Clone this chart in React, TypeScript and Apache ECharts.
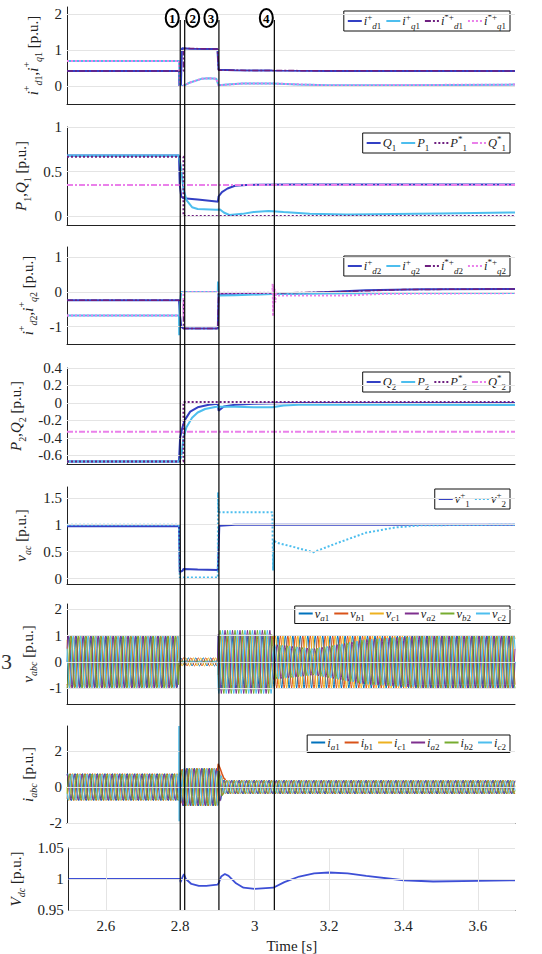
import React, { useEffect, useRef } from 'react';
import * as echarts from 'echarts';

// ---------------- data ----------------
const T_MIN = 2.5;
const T_MAX = 3.7;
const TIME_TICKS = [2.6, 2.8, 3, 3.2, 3.4, 3.6];
const EVENT_TIMES = [2.8, 2.812, 2.904, 3.053];
const EVENT_LABELS = ['1', '2', '3', '4'];

const Y_MIN = [-0.5, -0.1, -1.5, -0.7, -0.1, -1.6, -2, 0.95];
const Y_MAX = [2.2, 1, 1.3, 0.4, 1.7, 2.2, 3.4, 1.05];
const Y_TICKS = [
  [0, 1, 2],
  [0, 0.5, 1],
  [-1, 0, 1],
  [-0.6, -0.4, -0.2, 0, 0.2, 0.4],
  [0, 0.5, 1, 1.5],
  [-1, 0, 1, 2],
  [-2, 0, 2],
  [0.95, 1, 1.05],
];

// panel 1
const ID1 = [[2.5, 0.42], [2.8, 0.42], [2.801, 0.0], [2.805, 0.0], [2.808, 1.05], [2.83, 1.04], [2.87, 1.03], [2.903, 1.03], [2.906, 0.45], [2.95, 0.44], [3.05, 0.43], [3.2, 0.42], [3.7, 0.42]];
const IQ1 = [[2.5, 0.7], [2.8, 0.7], [2.803, 0.0], [2.81, 0.0], [2.83, 0.1], [2.86, 0.2], [2.88, 0.22], [2.9, 0.2], [2.906, 0.02], [2.93, 0.04], [2.97, 0.07], [3.05, 0.07], [3.12, 0.04], [3.2, 0.02], [3.4, 0.02], [3.7, 0.04]];
const ID1_REF = [[2.5, 0.42], [2.812, 0.42], [2.812, 1.05], [2.903, 1.03], [2.906, 0.44], [3.05, 0.43], [3.7, 0.42]];
const IQ1_REF = [[2.5, 0.7], [2.8, 0.7], [2.803, 0.0], [2.81, 0.0], [2.83, 0.1], [2.86, 0.2], [2.88, 0.22], [2.9, 0.2], [2.906, 0.02], [2.97, 0.07], [3.05, 0.07], [3.2, 0.02], [3.7, 0.04]];
// panel 2
const Q1 = [[2.5, 0.68], [2.8, 0.68], [2.802, 0.35], [2.806, 0.22], [2.812, 0.2], [2.85, 0.185], [2.9, 0.165], [2.904, 0.16], [2.906, 0.22], [2.915, 0.27], [2.93, 0.31], [2.95, 0.34], [2.98, 0.35], [3.1, 0.355], [3.7, 0.355]];
const P1 = [[2.5, 0.68], [2.8, 0.68], [2.805, 0.55], [2.812, 0.3], [2.82, 0.18], [2.835, 0.1], [2.85, 0.08], [2.9, 0.07], [2.91, 0.075], [2.92, 0.04], [2.935, 0.012], [2.97, 0.025], [3.0, 0.045], [3.04, 0.057], [3.08, 0.045], [3.15, 0.025], [3.25, 0.018], [3.5, 0.03], [3.7, 0.04]];
const P1_REF = [[2.5, 0.665], [2.812, 0.665], [2.812, 0.0], [3.7, 0.0]];
const Q1_REF = [[2.5, 0.35], [3.7, 0.35]];
// panel 3
const ID2 = [[2.5, -0.24], [2.8, -0.24], [2.802, -0.6], [2.806, -1.0], [2.812, -1.05], [2.904, -1.05], [2.906, -0.05], [2.95, -0.05], [3.05, -0.04], [3.1, -0.05], [3.2, 0.0], [3.3, 0.05], [3.45, 0.08], [3.7, 0.09]];
const IQ2 = [[2.5, -0.68], [2.8, -0.68], [2.8005, -1.25], [2.802, -0.4], [2.806, 0.0], [2.904, 0.0], [2.9045, 0.3], [2.906, -0.1], [2.95, -0.09], [3.05, -0.06], [3.1, -0.06], [3.2, -0.04], [3.4, -0.03], [3.7, -0.03]];
const ID2_REF = [[2.5, -0.24], [2.812, -0.24], [2.812, -1.05], [2.904, -1.05], [2.906, -0.04], [3.05, -0.03], [3.2, 0.0], [3.4, 0.07], [3.7, 0.09]];
const IQ2_REF = [[2.5, -0.68], [2.812, -0.68], [2.812, 0.0], [2.904, 0.0], [2.906, -0.02], [3.05, -0.02], [3.051, 0.25], [3.052, -0.7], [3.053, 0.2], [3.054, -0.5], [3.056, 0.1], [3.058, -0.3], [3.06, 0.0], [3.065, -0.1], [3.1, -0.1], [3.25, -0.1], [3.35, -0.05], [3.7, -0.03]];
// panel 4
const Q2 = [[2.5, -0.67], [2.8, -0.67], [2.803, -0.4], [2.808, -0.3], [2.815, -0.2], [2.83, -0.1], [2.85, -0.05], [2.88, -0.02], [2.904, -0.01], [2.906, -0.09], [2.92, -0.04], [2.95, -0.02], [3.0, -0.01], [3.1, 0.0], [3.7, 0.0]];
const P2 = [[2.5, -0.67], [2.8, -0.67], [2.806, -0.62], [2.812, -0.4], [2.82, -0.28], [2.835, -0.17], [2.85, -0.11], [2.87, -0.07], [2.9, -0.045], [2.95, -0.045], [3.0, -0.05], [3.05, -0.05], [3.08, -0.03], [3.12, -0.02], [3.4, -0.02], [3.7, -0.025]];
const P2_REF = [[2.5, -0.67], [2.812, -0.67], [2.812, 0.01], [3.7, 0.01]];
const Q2_REF = [[2.5, -0.33], [3.7, -0.33]];
// panel 5
const V1 = [[2.5, 0.97], [2.8, 0.97], [2.802, 0.12], [2.81, 0.15], [2.812, 0.18], [2.85, 0.17], [2.904, 0.16], [2.908, 0.98], [2.95, 1.0], [3.7, 1.0]];
const V2 = [[2.5, 1.0], [2.8, 1.0], [2.802, 0.02], [2.904, 0.02], [2.9045, 1.6], [2.906, 1.23], [3.05, 1.23], [3.052, 0.15], [3.054, 0.72], [3.06, 0.67], [3.1, 0.6], [3.16, 0.49], [3.22, 0.65], [3.3, 0.85], [3.38, 0.95], [3.45, 0.99], [3.7, 1.0]];
// panel 6/7 : envelopes (amplitudes) and one 50 Hz cycle
const UNIT_WAVE = [0, 0.5, 0.866, 1, 0.866, 0.5, 0, -0.5, -0.866, -1, -0.866, -0.5];
const PERIOD = 0.02;
const ENV_V1 = [[2.5, 0.97], [2.8, 0.97], [2.8, 0.15], [2.904, 0.15], [2.904, 1.0], [3.7, 1.0]];
const ENV_V2 = [[2.5, 1.0], [2.8, 1.0], [2.8, 0.03], [2.904, 0.03], [2.904, 1.2], [3.05, 1.2], [3.05, 0.67], [3.1, 0.6], [3.16, 0.5], [3.3, 0.85], [3.45, 0.99], [3.7, 1.0]];
const ENV_I1 = [[2.5, 0.75], [2.8, 0.75], [2.81, 1.05], [2.904, 1.05], [2.92, 0.38], [3.7, 0.38]];
const ENV_I2 = [[2.5, 0.73], [2.8, 0.73], [2.81, 1.03], [2.904, 1.03], [2.92, 0.36], [3.7, 0.36]];
const PHASE_SHIFT_1 = [0, 8, 4];
const PHASE_SHIFT_2 = [1, 9, 5];
const IC2_SPIKE = [[2.7995, 0.0], [2.8, 3.4], [2.8005, -1.9], [2.801, 0.5], [2.802, 0.0]];
const IB1_SPIKE = [[2.903, 0.9], [2.905, 1.3], [2.91, 1.05], [2.915, 0.75], [2.92, 0.5], [2.925, 0.4]];
// panel 8
const VDC = [[2.5, 1.0], [2.8, 1.0], [2.801, 0.995], [2.806, 1.003], [2.81, 1.008], [2.815, 1.0], [2.83, 0.992], [2.85, 0.989], [2.87, 0.989], [2.9, 0.991], [2.903, 0.993], [2.91, 1.004], [2.92, 1.008], [2.93, 1.005], [2.95, 0.993], [2.97, 0.986], [3.0, 0.984], [3.05, 0.986], [3.08, 0.995], [3.12, 1.004], [3.16, 1.009], [3.2, 1.0105], [3.25, 1.009], [3.3, 1.005], [3.4, 0.998], [3.48, 0.996], [3.6, 0.997], [3.7, 0.998]];

// ---------------- layout & style ----------------
const SERIF = 'Liberation Serif';
const GRID_TOP = [7, 127, 247, 368, 487, 604, 726, 848];
const GRID_H = [97, 98, 97, 96, 97, 100, 97, 63];
const NAME_GAP = [6, 25, 9, 25, 21, 11, 11, 23];
const LEGEND_TOP = [11, 133, 256, 372, 489, 606, 735];
const C_BLUE = '#3340c4';
const C_CYAN = '#4dbeee';
const C_PURP = '#6e1f80';
const C_PINK = '#ea80ea';
const PHASE_COLORS = ['#0072BD', '#D95319', '#EDB120', '#7E2F8E', '#77AC30', '#4DBEEE'];
const DASHDOT = [6, 2, 2, 2];
const DOT = [2, 2];

const AXIS_NAMES = [
  '{m|i}{p|+}{s|d}{sn|1}{r|,}{m|i}{p|+}{s|q}{sn|1}{r| [p.u.]}',
  '{m|P}{sn|1}{r|,}{m|Q}{sn|1}{r| [p.u.]}',
  '{m|i}{p|+}{s|d}{sn|2}{r|,}{m|i}{p|+}{s|q}{sn|2}{r| [p.u.]}',
  '{m|P}{sn|2}{r|,}{m|Q}{sn|2}{r| [p.u.]}',
  '{m|v}{s|ac}{r| [p.u.]}',
  '{m|v}{s|abc}{r| [p.u.]}',
  '{m|i}{s|abc}{r| [p.u.]}',
  '{m|V}{s|dc}{r| [p.u.]}',
];

const LABELS: Record<string, string> = {
  id1: '{m|i}{p|+}{s|d}{sn|1}', iq1: '{m|i}{p|+}{s|q}{sn|1}', id1r: '{m|i}{p|*+}{s|d}{sn|1}', iq1r: '{m|i}{p|*+}{s|q}{sn|1}',
  Q1: '{m|Q}{sn|1}', P1: '{m|P}{sn|1}', P1r: '{m|P}{p|*}{sn|1}', Q1r: '{m|Q}{p|*}{sn|1}',
  id2: '{m|i}{p|+}{s|d}{sn|2}', iq2: '{m|i}{p|+}{s|q}{sn|2}', id2r: '{m|i}{p|*+}{s|d}{sn|2}', iq2r: '{m|i}{p|*+}{s|q}{sn|2}',
  Q2: '{m|Q}{sn|2}', P2: '{m|P}{sn|2}', P2r: '{m|P}{p|*}{sn|2}', Q2r: '{m|Q}{p|*}{sn|2}',
  v1: '{m|v}{p|+}{sn|1}', v2: '{m|v}{p|+}{sn|2}',
  va1: '{m|v}{s|a}{sn|1}', vb1: '{m|v}{s|b}{sn|1}', vc1: '{m|v}{s|c}{sn|1}', va2: '{m|v}{s|a}{sn|2}', vb2: '{m|v}{s|b}{sn|2}', vc2: '{m|v}{s|c}{sn|2}',
  ia1: '{m|i}{s|a}{sn|1}', ib1: '{m|i}{s|b}{sn|1}', ic1: '{m|i}{s|c}{sn|1}', ia2: '{m|i}{s|a}{sn|2}', ib2: '{m|i}{s|b}{sn|2}', ic2: '{m|i}{s|c}{sn|2}',
};
const LEGEND_NAMES = [
  ['id1', 'iq1', 'id1r', 'iq1r'],
  ['Q1', 'P1', 'P1r', 'Q1r'],
  ['id2', 'iq2', 'id2r', 'iq2r'],
  ['Q2', 'P2', 'P2r', 'Q2r'],
  ['v1', 'v2'],
  ['va1', 'vb1', 'vc1', 'va2', 'vb2', 'vc2'],
  ['ia1', 'ib1', 'ic1', 'ia2', 'ib2', 'ic2'],
];

function envAt(env: number[][], t: number) {
  for (let i = 0; i < env.length - 1; i++) {
    const [t0, v0] = env[i];
    const [t1, v1] = env[i + 1];
    if (t >= t0 && t < t1) return v0 + ((v1 - v0) * (t - t0)) / (t1 - t0);
  }
  return env[env.length - 1][1];
}
function wave(env: number[][], shift: number) {
  const step = PERIOD / UNIT_WAVE.length;
  const n = Math.round((T_MAX - T_MIN) / step);
  const out: number[][] = [];
  for (let k = 0; k <= n; k++) {
    const t = T_MIN + k * step;
    out.push([t, envAt(env, t) * UNIT_WAVE[(k + shift) % UNIT_WAVE.length]]);
  }
  return out;
}

function richFor(size: number, sub: number) {
  const lh = Math.round(size * 1.45);
  return {
    m: { fontFamily: SERIF, fontStyle: 'italic', fontSize: size, lineHeight: lh, color: '#222' },
    r: { fontFamily: SERIF, fontSize: size, lineHeight: lh, color: '#222' },
    s: { fontFamily: SERIF, fontStyle: 'italic', fontSize: sub, lineHeight: sub, verticalAlign: 'bottom', color: '#222' },
    sn: { fontFamily: SERIF, fontSize: sub, lineHeight: sub, verticalAlign: 'bottom', color: '#222' },
    p: { fontFamily: SERIF, fontSize: sub, lineHeight: sub, verticalAlign: 'top', color: '#222' },
  };
}

function ln(name: string, data: number[][], g: number, color: string, width: number, type: any = 'solid', z = 2) {
  return {
    type: 'line', name, data, xAxisIndex: g, yAxisIndex: g, showSymbol: false, symbol: 'none',
    lineStyle: { color, width, type }, itemStyle: { color }, z, silent: true,
  };
}

function buildOption() {
  const grid = GRID_TOP.map((top, i) => ({ left: 67, right: 27, top, height: GRID_H[i] }));
  const xAxis = GRID_TOP.map((_, i) => {
    const last = i === 7;
    return {
      type: 'value', gridIndex: i, min: T_MIN, max: T_MAX,
      axisLine: { show: true, onZero: false, lineStyle: { color: '#222', width: 1 } },
      axisTick: last ? { show: true, inside: true, length: 5, customValues: TIME_TICKS, lineStyle: { color: '#222' } } : { show: false },
      axisLabel: last ? { show: true, customValues: TIME_TICKS, fontFamily: SERIF, fontSize: 15, color: '#222', margin: 8 } : { show: false },
      splitLine: { show: false },
      name: last ? 'Time [s]' : '', nameLocation: 'middle', nameGap: 28,
      nameTextStyle: { fontFamily: SERIF, fontSize: 15, color: '#222' },
    };
  });
  const yAxis = GRID_TOP.map((_, i) => ({
    type: 'value', gridIndex: i, min: Y_MIN[i], max: Y_MAX[i],
    axisLine: { show: true, onZero: false, lineStyle: { color: '#222', width: 1 } },
    axisTick: { show: true, inside: true, length: 4, customValues: Y_TICKS[i], lineStyle: { color: '#222' } },
    axisLabel: { show: true, customValues: Y_TICKS[i], fontFamily: SERIF, fontSize: 15, color: '#222', margin: 5 },
    splitLine: { show: false },
    name: AXIS_NAMES[i], nameLocation: 'middle', nameRotate: 90, nameGap: NAME_GAP[i],
    nameTextStyle: { rich: richFor(15, 10) },
  }));

  const series: any[] = [];
  // grid lines
  GRID_TOP.forEach((_, i) => {
    const data: any[] = Y_TICKS[i].map((v) => ({ yAxis: v }));
    if (i === 7) TIME_TICKS.forEach((v) => data.push({ xAxis: v }));
    series.push({
      type: 'line', data: [], xAxisIndex: i, yAxisIndex: i, z: 1, silent: true,
      markLine: { silent: true, symbol: ['none', 'none'], label: { show: false }, animation: false,
        lineStyle: { color: '#e4e4e4', width: 1, type: 'solid' }, emphasis: { disabled: true }, data },
    });
  });

  series.push(ln('id1', ID1, 0, C_BLUE, 2));
  series.push(ln('iq1', IQ1, 0, C_CYAN, 2));
  series.push(ln('id1r', ID1_REF, 0, C_PURP, 1.5, DASHDOT));
  series.push(ln('iq1r', IQ1_REF, 0, C_PINK, 2, DOT));

  series.push(ln('Q1', Q1, 1, C_BLUE, 2));
  series.push(ln('P1', P1, 1, C_CYAN, 2));
  series.push(ln('P1r', P1_REF, 1, C_PURP, 2, DOT));
  series.push(ln('Q1r', Q1_REF, 1, C_PINK, 2, DASHDOT));

  series.push(ln('id2', ID2, 2, C_BLUE, 2));
  series.push(ln('iq2', IQ2, 2, C_CYAN, 2));
  series.push(ln('id2r', ID2_REF, 2, C_PURP, 1.5, DASHDOT));
  series.push(ln('iq2r', IQ2_REF, 2, C_PINK, 2, DOT));

  series.push(ln('Q2', Q2, 3, C_BLUE, 2));
  series.push(ln('P2', P2, 3, C_CYAN, 2));
  series.push(ln('P2r', P2_REF, 3, C_PURP, 2, DOT));
  series.push(ln('Q2r', Q2_REF, 3, C_PINK, 2, DASHDOT));

  series.push(ln('v1', V1, 4, C_BLUE, 2));
  series.push(ln('v2', V2, 4, C_CYAN, 2, DOT));

  const vNames = ['va1', 'vb1', 'vc1', 'va2', 'vb2', 'vc2'];
  vNames.forEach((nm, k) => {
    const env = k < 3 ? ENV_V1 : ENV_V2;
    const sh = k < 3 ? PHASE_SHIFT_1[k] : PHASE_SHIFT_2[k - 3];
    series.push(ln(nm, wave(env, sh), 5, PHASE_COLORS[k], 1));
  });
  const iNames = ['ia1', 'ib1', 'ic1', 'ia2', 'ib2', 'ic2'];
  iNames.forEach((nm, k) => {
    const env = k < 3 ? ENV_I1 : ENV_I2;
    const sh = (k < 3 ? PHASE_SHIFT_1[k] : PHASE_SHIFT_2[k - 3]) + 2;
    series.push(ln(nm, wave(env, sh), 6, PHASE_COLORS[k], 1));
  });
  series.push(ln('ic2', IC2_SPIKE, 6, PHASE_COLORS[5], 1, 'solid', 3));
  series.push(ln('ib1', IB1_SPIKE, 6, PHASE_COLORS[1], 1.5, 'solid', 3));

  series.push(ln('Vdc', VDC, 7, '#3d4fd6', 1.8));

  const legend = LEGEND_NAMES.map((names, i) => ({
    data: names, top: LEGEND_TOP[i], right: 32, orient: 'horizontal', selectedMode: false,
    backgroundColor: '#fff', borderColor: '#111', borderWidth: 1, padding: [1, 4, 1, 3],
    itemGap: 4, itemWidth: 14, itemHeight: 8,
    itemStyle: { opacity: 0, borderWidth: 0 },
    formatter: (n: string) => LABELS[n] || n,
    textStyle: { rich: richFor(12.5, 9), padding: [0, 0, 0, -3] },
  }));

  return {
    animation: false,
    backgroundColor: '#fff',
    grid, xAxis, yAxis, series, legend,
  };
}

export default function App() {
  const ref = useRef<HTMLDivElement>(null);
  useEffect(() => {
    document.body.style.margin = '0';
    const chart = echarts.init(ref.current!, null, { renderer: 'svg', width: 542, height: 954 });
    chart.setOption(buildOption() as any);
    const xs = EVENT_TIMES.map((t) => chart.convertToPixel({ xAxisIndex: 7 } as any, t) as unknown as number);
    const yBot = chart.convertToPixel({ yAxisIndex: 7 } as any, Y_MIN[7]) as unknown as number;
    const yTop = 20;
    const labelOffsets = [-8, 8, -8, -8];
    const graphic: any[] = [];
    xs.forEach((x) => {
      graphic.push({ type: 'line', silent: true, z: 100, shape: { x1: x, y1: yTop, x2: x, y2: yBot }, style: { stroke: '#000', lineWidth: 1.2 } });
    });
    xs.forEach((x, i) => {
      const cx = x + labelOffsets[i];
      graphic.push({ type: 'ellipse', silent: true, z: 101, shape: { cx, cy: 18, rx: 6.5, ry: 9 }, style: { fill: '#fff', stroke: '#000', lineWidth: 2 } });
      graphic.push({ type: 'text', silent: true, z: 102, x: cx, y: 18.5, style: { text: EVENT_LABELS[i], fontFamily: SERIF, fontSize: 13, fontWeight: 'bold', fill: '#000', align: 'center', verticalAlign: 'middle', textAlign: 'center', textVerticalAlign: 'middle' } });
    });
    graphic.push({ type: 'text', silent: true, x: 1, y: 661, style: { text: '3', fontFamily: SERIF, fontSize: 22, fill: '#333', verticalAlign: 'middle', textVerticalAlign: 'middle' } });
    chart.setOption({ graphic });
    return () => chart.dispose();
  }, []);
  return <div ref={ref} style={{ position: 'absolute', left: 0, top: 0, width: 542, height: 954 }} />;
}
